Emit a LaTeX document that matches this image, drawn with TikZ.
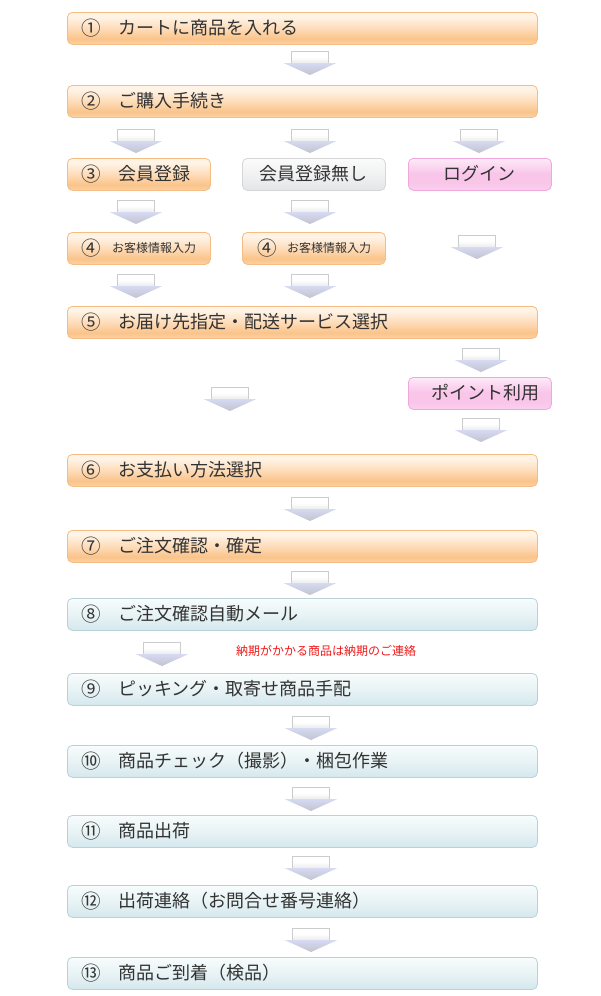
\documentclass[tikz,border=0pt]{standalone}
\usepackage{fontspec}
\setmainfont{Noto Sans CJK JP}
\definecolor{obord}{HTML}{F5BD84}
\definecolor{oA}{HTML}{FBD2A6}
\definecolor{oB}{HTML}{FAC48A}
\definecolor{oC}{HTML}{FDDCB9}
\definecolor{oD}{HTML}{FFF3E6}
\definecolor{bbord}{HTML}{B9D2D9}
\definecolor{bA}{HTML}{D4E8ED}
\definecolor{bB}{HTML}{E8F3F5}
\definecolor{bC}{HTML}{F8FCFC}
\definecolor{pbord}{HTML}{F0A8DC}
\definecolor{pA}{HTML}{FAD0EF}
\definecolor{pB}{HTML}{F9C6EA}
\definecolor{pC}{HTML}{FDEAF8}
\definecolor{gbord}{HTML}{D6D6D6}
\definecolor{gA}{HTML}{E4E5E7}
\definecolor{gB}{HTML}{EEEFF0}
\definecolor{gC}{HTML}{FBFBFB}
\definecolor{txt}{HTML}{333333}
\definecolor{redtxt}{HTML}{F01818}
\definecolor{arA}{HTML}{D6DAF2}
\definecolor{arB}{HTML}{C2C3CE}
\pgfdeclareverticalshading{oshade}{100bp}{color(0bp)=(oA); color(25bp)=(oA); color(34bp)=(oB); color(50bp)=(oC); color(68bp)=(oD); color(75bp)=(oD); color(100bp)=(oD)}
\pgfdeclareverticalshading{bshade}{100bp}{color(0bp)=(bA); color(25bp)=(bA); color(50bp)=(bB); color(75bp)=(bC); color(100bp)=(bC)}
\pgfdeclareverticalshading{pshade}{100bp}{color(0bp)=(pA); color(25bp)=(pA); color(36bp)=(pB); color(52bp)=(pB); color(75bp)=(pC); color(100bp)=(pC)}
\pgfdeclareverticalshading{gshade}{100bp}{color(0bp)=(gA); color(25bp)=(gA); color(45bp)=(gB); color(75bp)=(gC); color(100bp)=(gC)}
\begin{document}
\begin{tikzpicture}[x=1pt,y=-1pt,
  boxbase/.style={rounded corners=5pt, line width=0.8pt, anchor=north west, minimum height=32pt, inner sep=0pt},
  obox/.style={boxbase, draw=obord, shading=oshade},
  bbox/.style={boxbase, draw=bbord, shading=bshade},
  pbox/.style={boxbase, draw=pbord, shading=pshade},
  gbox/.style={boxbase, draw=gbord, shading=gshade},
  wide/.style={minimum width=470pt},
  narrow/.style={minimum width=143pt},
  num/.style={inner sep=0pt, text=txt, font=\fontsize{19.5}{19.5}\selectfont},
  lbl/.style={inner sep=0pt, anchor=west, text=txt, font=\fontsize{18}{18}\selectfont},
  slbl/.style={inner sep=0pt, anchor=west, text=txt, font=\fontsize{12}{12}\selectfont},
  clbl/.style={inner sep=0pt, text=txt, font=\fontsize{18}{18}\selectfont},
  darrow/.pic={
    \shade[top color=white, bottom color=gray!15, middle color=white, draw=gray!40, line width=0.5pt] (-18.5,0) rectangle (18.5,12);
    \shade[top color=arA, bottom color=arB] (-26.5,12) -- (26.5,12) -- (0,24) -- cycle;
  }
]
\useasboundingbox (0,0) rectangle (600,996);

% full-width rows
\node[obox, wide] (b1) at (67,12) {};
\node[num] (n1) at (91,28) {①};
\node[lbl] (t1) at (118,28) {カートに商品を入れる};

\node[obox, wide] (b2) at (67,85) {};
\node[num] (n2) at (91,101) {②};
\node[lbl] (t2) at (118,101) {ご購入手続き};

\node[obox, narrow] (b3a) at (67,158) {};
\node[num] (n3a) at (91,174) {③};
\node[lbl] (t3a) at (118,174) {会員登録};

\node[gbox, narrow] (b3b) at (242,158) {};
\node[clbl] (t3b) at (313.5,174) {会員登録無し};

\node[pbox, narrow] (b3c) at (408,158) {};
\node[clbl] (t3c) at (479.5,174) {ログイン};

\node[obox, narrow] (b4a) at (67,232) {};
\node[num] (n4a) at (91,248) {④};
\node[slbl] (t4a) at (112,248) {お客様情報入力};

\node[obox, narrow] (b4b) at (242,232) {};
\node[num] (n4b) at (267,248) {④};
\node[slbl] (t4b) at (287,248) {お客様情報入力};

\node[obox, wide] (b5) at (67,306) {};
\node[num] (n5) at (91,322) {⑤};
\node[lbl] (t5) at (118,322) {お届け先指定・配送サービス選択};

\node[pbox, narrow] (bP) at (408,377) {};
\node[clbl] (tP) at (485,393) {ポイント利用};

\node[obox, wide] (b6) at (67,454) {};
\node[num] (n6) at (91,470) {⑥};
\node[lbl] (t6) at (118,470) {お支払い方法選択};

\node[obox, wide] (b7) at (67,530) {};
\node[num] (n7) at (91,546) {⑦};
\node[lbl] (t7) at (118,546) {ご注文確認・確定};

\node[bbox, wide] (b8) at (67,598) {};
\node[num] (n8) at (91,614) {⑧};
\node[lbl] (t8) at (118,614) {ご注文確認自動メール};

\node[slbl, text=redtxt] (note) at (236,651) {納期がかかる商品は納期のご連絡};

\node[bbox, wide] (b9) at (67,673) {};
\node[num] (n9) at (91,689) {⑨};
\node[lbl] (t9) at (118,689) {ピッキング・取寄せ商品手配};

\node[bbox, wide] (b10) at (67,745) {};
\node[num] (n10) at (91,761) {⑩};
\node[lbl] (t10) at (118,761) {商品チェック（撮影）・梱包作業};

\node[bbox, wide] (b11) at (67,815) {};
\node[num] (n11) at (91,831) {⑪};
\node[lbl] (t11) at (118,831) {商品出荷};

\node[bbox, wide] (b12) at (67,885) {};
\node[num] (n12) at (91,901) {⑫};
\node[lbl] (t12) at (118,901) {出荷連絡（お問合せ番号連絡）};

\node[bbox, wide] (b13) at (67,957) {};
\node[num] (n13) at (91,973) {⑬};
\node[lbl] (t13) at (118,973) {商品ご到着（検品）};

% block arrows
\pic at (310,51) {darrow};
\pic at (136,129) {darrow};
\pic at (310,129) {darrow};
\pic at (479,129) {darrow};
\pic at (136,200) {darrow};
\pic at (310,200) {darrow};
\pic at (477,235) {darrow};
\pic at (136,274) {darrow};
\pic at (310,274) {darrow};
\pic at (481,348) {darrow};
\pic at (230,387) {darrow};
\pic at (481,418) {darrow};
\pic at (310,497) {darrow};
\pic at (310,571) {darrow};
\pic at (162,642) {darrow};
\pic at (311,716) {darrow};
\pic at (311,787) {darrow};
\pic at (311,856) {darrow};
\pic at (311,928) {darrow};
\end{tikzpicture}
\end{document}
